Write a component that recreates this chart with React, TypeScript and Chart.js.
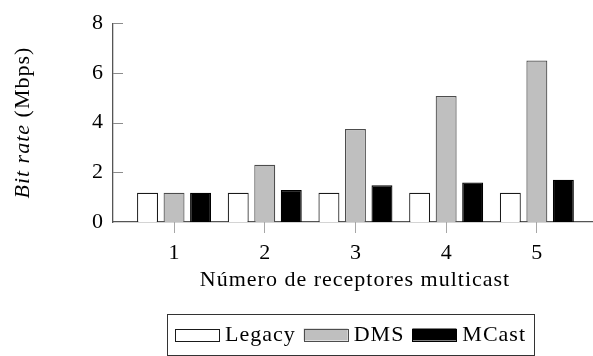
import React, { useEffect, useRef } from 'react';
import { Chart, registerables } from 'chart.js';
Chart.register(...registerables);

const categories = [1, 2, 3, 4, 5];
const legacyValues = [1.18, 1.18, 1.18, 1.18, 1.18];
const dmsValues = [1.18, 2.3, 3.74, 5.07, 6.5];
const mcastValues = [1.18, 1.29, 1.48, 1.59, 1.7];
const yTickValues = [0, 2, 4, 6, 8];
const seriesNames = ['Legacy', 'DMS', 'MCast'];
const xTitle = 'Número de receptores multicast';
const yTitleItalic = 'Bit rate';
const yTitleRest = ' (Mbps)';

const FONT = '"Liberation Serif", "Times New Roman", serif';
const FS = 22;
const LS = '1px';

const decorPlugin = {
  id: 'decor',
  afterDraw(chart: any) {
    const { ctx, chartArea: ca, scales } = chart;
    const y = scales.y;
    ctx.save();
    // inner y tick marks
    ctx.strokeStyle = '#8c8c8c';
    ctx.lineWidth = 1;
    yTickValues.forEach((v) => {
      if (v === 0) return;
      const py = Math.round(y.getPixelForValue(v)) + 0.5;
      ctx.beginPath();
      ctx.moveTo(ca.left, py);
      ctx.lineTo(ca.left + 10, py);
      ctx.stroke();
    });
    ctx.restore();

    // y title (mixed italic / roman)
    ctx.save();
    ctx.translate(23, (ca.top + ca.bottom) / 2);
    ctx.rotate(-Math.PI / 2);
    ctx.fillStyle = '#000';
    ctx.textBaseline = 'middle';
    ctx.textAlign = 'left';
    (ctx as any).letterSpacing = LS;
    ctx.font = `italic ${FS}px ${FONT}`;
    const w1 = ctx.measureText(yTitleItalic).width;
    ctx.font = `${FS}px ${FONT}`;
    const w2 = ctx.measureText(yTitleRest).width;
    const x0 = -(w1 + w2) / 2;
    ctx.font = `italic ${FS}px ${FONT}`;
    ctx.fillText(yTitleItalic, x0, 0);
    ctx.font = `${FS}px ${FONT}`;
    ctx.fillText(yTitleRest, x0 + w1, 0);
    ctx.restore();

    // x title
    ctx.save();
    ctx.fillStyle = '#000';
    (ctx as any).letterSpacing = LS;
    ctx.font = `${FS}px ${FONT}`;
    ctx.textAlign = 'center';
    ctx.textBaseline = 'middle';
    ctx.fillText(xTitle, 355, 280);
    ctx.restore();

    // legend
    ctx.save();
    (ctx as any).letterSpacing = LS;
    ctx.font = `${FS}px ${FONT}`;
    const sw = 44, sh = 12, gapText = 6, gapItem = 8, padX = 8;
    const items = chart.data.datasets.map((ds: any) => ({
      label: ds.label,
      fill: ds.backgroundColor,
      stroke: ds.borderColor,
      w: ctx.measureText(ds.label).width,
    }));
    let total = 0;
    items.forEach((it: any, i: number) => {
      total += sw + gapText + it.w + (i < items.length - 1 ? gapItem : 0);
    });
    const boxW = total + padX * 2;
    const boxL = 350.5 - boxW / 2;
    const boxT = 314, boxH = 41;
    ctx.strokeStyle = '#333';
    ctx.lineWidth = 1;
    ctx.strokeRect(Math.round(boxL) + 0.5, boxT + 0.5, Math.round(boxW), boxH);
    let cx = boxL + padX;
    const cy = boxT + boxH / 2;
    items.forEach((it: any) => {
      ctx.fillStyle = it.fill;
      ctx.fillRect(cx, cy - sh / 2, sw, sh);
      ctx.strokeStyle = it.stroke;
      ctx.strokeRect(Math.round(cx) + 0.5, Math.round(cy - sh / 2) + 0.5, sw, sh);
      cx += sw + gapText;
      ctx.fillStyle = '#000';
      ctx.textAlign = 'left';
      ctx.textBaseline = 'middle';
      ctx.fillText(it.label, cx, cy + 1);
      cx += it.w + gapItem;
    });
    ctx.restore();
  },
};

export default function App() {
  const ref = useRef<HTMLCanvasElement | null>(null);
  useEffect(() => {
    if (!ref.current) return;
    const mk = (vals: number[]) => categories.map((c, i) => ({ x: c, y: vals[i] }));
    const chart = new Chart(ref.current, {
      type: 'bar',
      data: {
        datasets: [
          { label: seriesNames[0], data: mk(legacyValues), backgroundColor: '#ffffff', borderColor: '#1a1a1a', borderWidth: 1.2 },
          { label: seriesNames[1], data: mk(dmsValues), backgroundColor: '#bfbfbf', borderColor: '#4d4d4d', borderWidth: 1.2 },
          { label: seriesNames[2], data: mk(mcastValues), backgroundColor: '#000000', borderColor: '#000000', borderWidth: 1.2 },
        ],
      },
      options: {
        animation: false,
        responsive: false,
        categoryPercentage: 0.877,
        barPercentage: 0.79,
        layout: { padding: { top: 16, left: 0, right: 0, bottom: 0 } },
        plugins: { legend: { display: false }, tooltip: { enabled: false }, title: { display: false } },
        scales: {
          x: {
            type: 'linear',
            min: 0.327,
            max: 5.619,
            offset: false,
            grid: { display: true, drawOnChartArea: false, drawTicks: true, tickLength: 11, color: '#a6a6a6', offset: false },
            border: { display: true, color: '#555', width: 1.3 },
            afterBuildTicks: (s: any) => { s.ticks = categories.map((v) => ({ value: v })); },
            afterFit: (s: any) => { s.height = 356 - 222; },
            ticks: { color: '#000', font: { family: FONT, size: FS }, padding: 7, maxRotation: 0, autoSkip: false, callback: (v: any) => String(v) },
          },
          y: {
            min: 0,
            max: 8,
            grid: { display: false, drawTicks: false },
            border: { display: true, color: '#555', width: 1.3 },
            afterBuildTicks: (s: any) => { s.ticks = yTickValues.map((v) => ({ value: v })); },
            afterFit: (s: any) => { s.width = 113; },
            ticks: { color: '#000', font: { family: FONT, size: FS }, padding: 10 },
          },
        },
      },
      plugins: [decorPlugin],
    } as any);
    return () => chart.destroy();
  }, []);
  return (
    <div style={{ position: 'absolute', left: 0, top: 0, width: 593, height: 356 }}>
      <canvas ref={ref} width={593} height={356} style={{ display: 'block' }} />
    </div>
  );
}
